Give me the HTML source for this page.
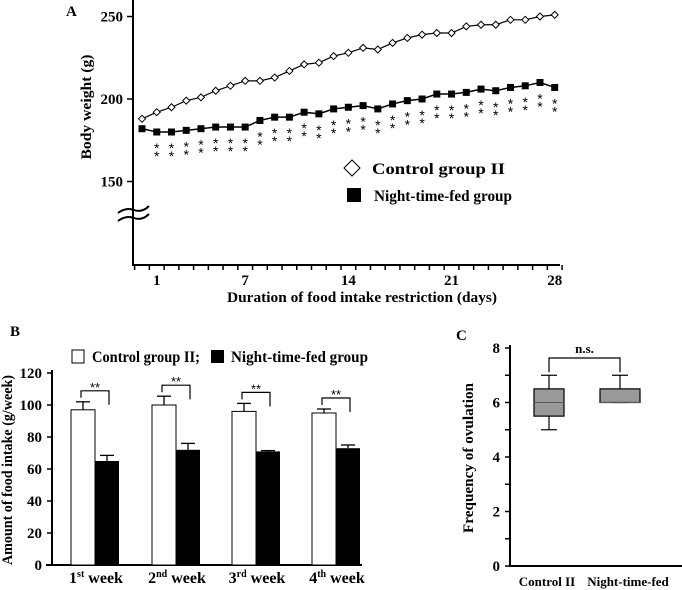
<!DOCTYPE html>
<html><head><meta charset="utf-8">
<style>
html,body{margin:0;padding:0;background:#fff;}
svg{display:block;font-family:"Liberation Serif",serif;font-weight:bold;}
</style></head>
<body>
<svg id="fig" width="682" height="590" viewBox="0 0 682 590" xmlns="http://www.w3.org/2000/svg">
<g id="pa"></g>
<g id="pb"></g>
<g id="pc"></g>
</svg>
<script>
// Panel A data
const days = [0,1,2,3,4,5,6,7,8,9,10,11,12,13,14,15,16,17,18,19,20,21,22,23,24,25,26,27,28];
const controlWeight = [188,192,195,199,201,205,208,211,211,213,217,221,222,226,228,231,230,234,237,239,240,240,244,245,245,248,248,250,251];
const nightWeight = [182,180,180,181,182,183,183,183,187,189,189,192,191,194,195,196,194,197,199,200,203,203,204,206,205,207,208,210,207];
const dayTickLabels = [1,7,14,21,28];
const weightTicks = [150,200,250];
// Panel B data
const weeks = ["1st","2nd","3rd","4th"];
const weekSup = ["st","nd","rd","th"];
const controlIntake = [97,100,96,95];
const controlErr = [5,5.5,5,2.5];
const nightIntake = [65,72,71,73];
const nightErr = [3.5,4,0.5,2];
const intakeTicks = [0,20,40,60,80,100,120];
// Panel C data
const boxGroups = ["Control II","Night-time-fed"];
const boxMin = [5,6];
const boxQ1 = [5.5,6];
const boxMed = [6,6];
const boxQ3 = [6.5,6.5];
const boxMax = [7,7];
const ovTicks = [0,2,4,6,8];

const NS="http://www.w3.org/2000/svg";
function mk(parent,tag,attrs,text){const e=document.createElementNS(NS,tag);for(const k in attrs)e.setAttribute(k,attrs[k]);if(text!==undefined)e.textContent=text;parent.appendChild(e);return e;}
const STAR='font-family:"Liberation Sans",sans-serif;font-weight:normal';

// ---------- Panel A ----------
const pa=document.getElementById('pa');
const ax=d=>142+d*14.74;
const ay=v=>99-(v-200)*1.65;
let e=mk(pa,'text',{x:66,y:16,'font-size':15},'A');

e=mk(pa,'line',{x1:133,y1:0,x2:133,y2:265,stroke:'#000','stroke-width':2});

e=mk(pa,'line',{x1:132,y1:265,x2:560,y2:265,stroke:'#000','stroke-width':2});

for(let d=-0.5;d<=28.6;d+=1){mk(pa,'line',{x1:ax(d),y1:265,x2:ax(d),y2:270,stroke:'#000','stroke-width':1.5});}
dayTickLabels.forEach(d=>{e=mk(pa,'text',{x:ax(d),y:285,'font-size':15,'text-anchor':'middle'},d);});
weightTicks.forEach(v=>{mk(pa,'line',{x1:127,y1:ay(v),x2:133,y2:ay(v),stroke:'#000','stroke-width':1.5});e=mk(pa,'text',{x:123,y:ay(v)+5,'font-size':15,'text-anchor':'end'},v);});
e=mk(pa,'path',{d:'M118,213 q8,-6 16,-3 q8,3 15,-4 M118,221 q8,-6 16,-3 q8,3 15,-4',fill:'none',stroke:'#000','stroke-width':2});

e=mk(pa,'text',{x:0,y:0,'font-size':15,'text-anchor':'middle',textLength:105,lengthAdjust:'spacingAndGlyphs',transform:'translate(91,107) rotate(-90)'},'Body weight (g)');

e=mk(pa,'text',{x:362,y:302,'font-size':15,'text-anchor':'middle',textLength:270,lengthAdjust:'spacingAndGlyphs'},'Duration of food intake restriction (days)');

e=mk(pa,'polyline',{points:days.map((d,i)=>ax(d)+','+ay(controlWeight[i])).join(' '),fill:'none',stroke:'#000','stroke-width':1.2});

e=mk(pa,'polyline',{points:days.map((d,i)=>ax(d)+','+ay(nightWeight[i])).join(' '),fill:'none',stroke:'#000','stroke-width':1.5});

days.forEach((d,i)=>{
 const x=ax(d),y=ay(controlWeight[i]);
 e=mk(pa,'path',{d:`M${x},${y-3.5}L${x+3.5},${y}L${x},${y+3.5}L${x-3.5},${y}Z`,fill:'#fff',stroke:'#000','stroke-width':1});
 
 const y2=ay(nightWeight[i]);
 e=mk(pa,'rect',{x:x-3.5,y:y2-3.5,width:7,height:7,fill:'#000'});
 
 if(d>=1){
  e=mk(pa,'text',{x:x,y:y2+21,'font-size':14,'text-anchor':'middle',style:STAR},'*');
  
  e=mk(pa,'text',{x:x,y:y2+29,'font-size':14,'text-anchor':'middle',style:STAR},'*');
  
 }
});
e=mk(pa,'path',{d:'M344,168 L352,160 L360,168 L352,176 Z',fill:'#fff',stroke:'#000','stroke-width':1});

e=mk(pa,'text',{x:372,y:174,'font-size':16,textLength:133,lengthAdjust:'spacingAndGlyphs'},'Control group II');

e=mk(pa,'rect',{x:347,y:188,width:14,height:14,fill:'#000'});

e=mk(pa,'text',{x:374,y:201,'font-size':16,textLength:138,lengthAdjust:'spacingAndGlyphs'},'Night-time-fed group');


// ---------- Panel B ----------
const pb=document.getElementById('pb');
const by=v=>565-v*1.6;
const groupLeft=[71,152,232,312];
const bw=24;
e=mk(pb,'text',{x:10,y:336,'font-size':15},'B');
e=mk(pb,'line',{x1:52,y1:370,x2:52,y2:566,stroke:'#000','stroke-width':2});
e=mk(pb,'line',{x1:46,y1:565,x2:362,y2:565,stroke:'#000','stroke-width':2});
intakeTicks.forEach(v=>{mk(pb,'line',{x1:47,y1:by(v),x2:52,y2:by(v),stroke:'#000','stroke-width':1.5});e=mk(pb,'text',{x:42,y:by(v)+5,'font-size':15,'text-anchor':'end'},v);});
e=mk(pb,'text',{x:0,y:0,'font-size':15,'text-anchor':'middle',textLength:190,lengthAdjust:'spacingAndGlyphs',transform:'translate(12,470) rotate(-90)'},'Amount of food intake (g/week)');

e=mk(pb,'rect',{x:72,y:350,width:12,height:13,fill:'#fff',stroke:'#000','stroke-width':1});
e=mk(pb,'text',{x:92,y:362,'font-size':16,textLength:108,lengthAdjust:'spacingAndGlyphs'},'Control group II;');
e=mk(pb,'rect',{x:211,y:350,width:13,height:13,fill:'#000'});
e=mk(pb,'text',{x:231,y:362,'font-size':16,textLength:137,lengthAdjust:'spacingAndGlyphs'},'Night-time-fed group');
weeks.forEach((w,i)=>{
 const xl=groupLeft[i];
 mk(pb,'line',{x1:xl+bw/2,y1:by(controlIntake[i]),x2:xl+bw/2,y2:by(controlIntake[i]+controlErr[i]),stroke:'#000','stroke-width':1.3});
 mk(pb,'line',{x1:xl+bw/2-7,y1:by(controlIntake[i]+controlErr[i]),x2:xl+bw/2+7,y2:by(controlIntake[i]+controlErr[i]),stroke:'#000','stroke-width':1.3});
 e=mk(pb,'rect',{x:xl,y:by(controlIntake[i]),width:bw,height:565-by(controlIntake[i]),fill:'#fff',stroke:'#000','stroke-width':1});
 
 const xb=xl+bw;
 mk(pb,'line',{x1:xb+bw/2,y1:by(nightIntake[i]),x2:xb+bw/2,y2:by(nightIntake[i]+nightErr[i]),stroke:'#000','stroke-width':1.3});
 mk(pb,'line',{x1:xb+bw/2-7,y1:by(nightIntake[i]+nightErr[i]),x2:xb+bw/2+7,y2:by(nightIntake[i]+nightErr[i]),stroke:'#000','stroke-width':1.3});
 e=mk(pb,'rect',{x:xb,y:by(nightIntake[i]),width:bw,height:565-by(nightIntake[i]),fill:'#000'});
 
 const bt=by(Math.max(controlIntake[i]+controlErr[i],nightIntake[i]+nightErr[i]))-11;
 e=mk(pb,'path',{d:`M${xl+10},${bt+7}V${bt}H${xb+14}V${bt+14}`,fill:'none',stroke:'#000','stroke-width':1.2});
 
 e=mk(pb,'text',{x:(xl+xb+24)/2,y:bt+1,'font-size':13,'text-anchor':'middle',style:STAR},'**');
 
 const t=mk(pb,'text',{x:xl+bw+1,y:583,'font-size':16,'text-anchor':'middle'});
 
 mk(t,'tspan',{},w.replace(weekSup[i],''));
 mk(t,'tspan',{'font-size':10,dy:-6},weekSup[i]);
 mk(t,'tspan',{dy:6},' week');
});

// ---------- Panel C ----------
const pc=document.getElementById('pc');
const cy=v=>566-v*27.25;
const boxX=[549,620];
const boxW=[30,40];
e=mk(pc,'text',{x:456,y:340,'font-size':15},'C');
e=mk(pc,'line',{x1:510,y1:345,x2:510,y2:567,stroke:'#000','stroke-width':2});
e=mk(pc,'line',{x1:509,y1:566,x2:682,y2:566,stroke:'#000','stroke-width':2});
for(let v=0;v<=8;v++){mk(pc,'line',{x1:505,y1:cy(v),x2:510,y2:cy(v),stroke:'#000','stroke-width':1.5});}
ovTicks.forEach(v=>{e=mk(pc,'text',{x:500,y:cy(v)+5,'font-size':15,'text-anchor':'end'},v);});
e=mk(pc,'text',{x:0,y:0,'font-size':15,'text-anchor':'middle',textLength:150,lengthAdjust:'spacingAndGlyphs',transform:'translate(473,458) rotate(-90)'},'Frequency of ovulation');

boxGroups.forEach((g,i)=>{
 const x=boxX[i],w=boxW[i];
 mk(pc,'line',{x1:x,y1:cy(boxMin[i]),x2:x,y2:cy(boxMax[i]),stroke:'#000','stroke-width':1.2});
 mk(pc,'line',{x1:x-8,y1:cy(boxMin[i]),x2:x+8,y2:cy(boxMin[i]),stroke:'#000','stroke-width':1.2});
 mk(pc,'line',{x1:x-8,y1:cy(boxMax[i]),x2:x+8,y2:cy(boxMax[i]),stroke:'#000','stroke-width':1.2});
 e=mk(pc,'rect',{x:x-w/2,y:cy(boxQ3[i]),width:w,height:cy(boxQ1[i])-cy(boxQ3[i]),fill:'#999',stroke:'#000','stroke-width':1.2});
 
 mk(pc,'line',{x1:x-w/2,y1:cy(boxMed[i]),x2:x+w/2,y2:cy(boxMed[i]),stroke:'#555','stroke-width':1});
 e=mk(pc,'text',{x:i?628:547,y:586,'font-size':13,'text-anchor':'middle'},g);
 
});
e=mk(pc,'path',{d:`M${boxX[0]},${cy(7)-3}V${cy(8)+10}H${boxX[1]}V${cy(7)-3}`,fill:'none',stroke:'#000','stroke-width':1.2});

e=mk(pc,'text',{x:(boxX[0]+boxX[1])/2,y:cy(8)+5,'font-size':13,'text-anchor':'middle'},'n.s.');

</script>
</body></html>
